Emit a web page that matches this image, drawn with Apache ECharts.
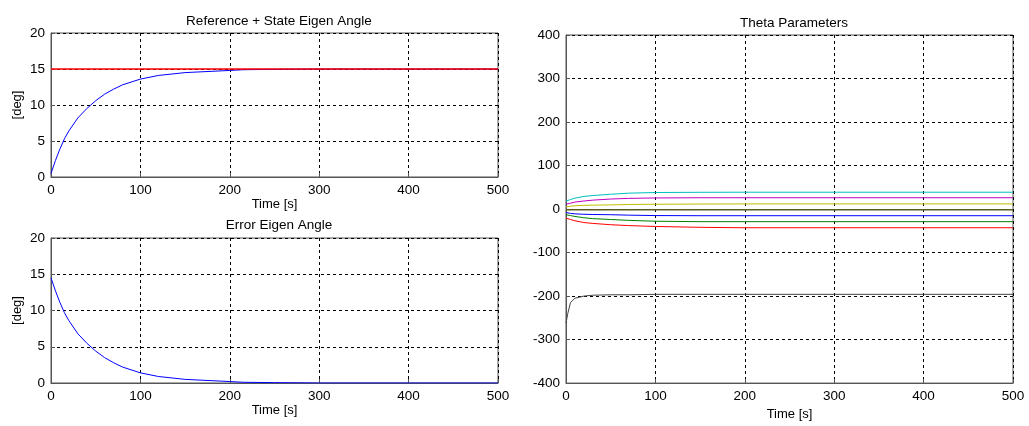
<!DOCTYPE html>
<html>
<head>
<meta charset="utf-8">
<script src="https://cdn.jsdelivr.net/npm/echarts@6/dist/echarts.min.js"></script>
<style>
  html, body { margin: 0; padding: 0; background: #fff; }
  #main { width: 1029px; height: 426px; }
</style>
</head>
<body>
<div id="main"></div>
<script>
// left plots (eigen angle)
var tLeft = [0, 5, 10, 15, 20, 30, 40, 50, 60, 70, 80, 100, 120, 150, 200, 215, 250, 300, 400, 500];
var refAngle = [15, 15, 15, 15, 15, 15, 15, 15, 15, 15, 15, 15, 15, 15, 15, 15, 15, 15, 15, 15];
var stateAngle = [0.5, 2.3, 3.9, 5.3, 6.4, 8.2, 9.5, 10.6, 11.5, 12.2, 12.8, 13.6, 14.1, 14.5, 14.8, 14.9, 14.95, 15, 15, 15];
var errorAngle = [14.5, 12.7, 11.1, 9.7, 8.6, 6.8, 5.5, 4.4, 3.5, 2.8, 2.2, 1.4, 0.9, 0.5, 0.2, 0.1, 0.05, 0, 0, 0];

// right plot (theta parameters)
var tRight = [0, 2, 5, 10, 20, 30, 50, 70, 100, 150, 200, 300, 400, 500];
var thetaCyan = [18, 20, 22, 25, 29, 31, 34, 36.5, 38, 38.5, 38.7, 38.7, 38.7, 38.7];
var thetaMagenta = [11, 12, 13.5, 16, 18.5, 20.5, 23, 24.5, 25.5, 26, 26, 26, 26, 26];
var thetaYellow = [5, 5.5, 6.5, 7.5, 8.5, 9, 9.5, 10.5, 11, 11.5, 11.8, 11.8, 11.8, 11.8];
var thetaOlive = [-1.5, -1.5, -1.5, -1.5, -1.5, -1.5, -1.5, -1.5, -1.5, -1.5, -1.5, -1.5, -1.5, -1.5];
var thetaBlue = [-8, -9, -10, -11, -12, -12.5, -13, -14, -15, -15.3, -15.3, -15.3, -15.3, -15.3];
var thetaGreen = [-13, -14, -15, -17, -20, -22, -24, -26, -28, -29, -29, -29, -29, -29];
var thetaRed = [-21, -22, -24, -27, -31, -33, -36, -38, -40, -42, -43, -43, -43, -43];
var thetaBlack = [-262, -240, -215, -205, -200, -198, -197, -197, -196, -196, -196, -196, -196, -196];

function pairs(t, v) {
  return t.map(function (x, i) { return [x, v[i]]; });
}

var font = 'Liberation Sans, Arial, sans-serif';
var gridStyle = { show: true, lineStyle: { color: '#000', type: [3, 3], width: 1 } };

function xAx(idx) {
  return {
    type: 'value', gridIndex: idx, min: 0, max: 500, interval: 100,
    name: 'Time [s]', nameLocation: 'middle', nameGap: 20,
    nameTextStyle: { color: '#000', fontSize: 13, fontFamily: font },
    axisLine: { show: true, onZero: false, lineStyle: { color: '#555' } },
    axisTick: { show: true, inside: true, length: 4, lineStyle: { color: '#555' } },
    axisLabel: { color: '#000', fontSize: 13.5, fontFamily: font, margin: 6 },
    splitLine: gridStyle
  };
}

function yAx(idx, min, max, interval, name) {
  return {
    type: 'value', gridIndex: idx, min: min, max: max, interval: interval,
    name: name, nameLocation: 'middle', nameGap: 27, nameRotate: 90,
    nameTextStyle: { color: '#000', fontSize: 13, fontFamily: font },
    axisLine: { show: true, onZero: false, lineStyle: { color: '#555' } },
    axisTick: { show: true, inside: true, length: 4, lineStyle: { color: '#555' } },
    axisLabel: { color: '#000', fontSize: 13.5, fontFamily: font, margin: 6 },
    splitLine: gridStyle
  };
}

function line(xi, data, color, w) {
  return {
    type: 'line', xAxisIndex: xi, yAxisIndex: xi, data: data,
    showSymbol: false, symbol: 'none', smooth: false, animation: false,
    lineStyle: { color: color, width: w || 1 }
  };
}

var chart = echarts.init(document.getElementById('main'), null, { renderer: 'canvas' });

var titleStyle = { color: '#000', fontSize: 13.5, fontWeight: 'normal', fontFamily: font };

chart.setOption({
  backgroundColor: '#fff',
  animation: false,
  title: [
    { text: 'Reference + State Eigen Angle', left: 274, top: 9, textAlign: 'center', textStyle: titleStyle },
    { text: 'Error Eigen Angle', left: 274, top: 213, textAlign: 'center', textStyle: titleStyle },
    { text: 'Theta Parameters', left: 789, top: 11, textAlign: 'center', textStyle: titleStyle }
  ],
  grid: [
    { left: 51, top: 33, width: 447, height: 144, show: true, borderColor: '#555', borderWidth: 1, backgroundColor: '#fff' },
    { left: 51, top: 238, width: 447, height: 145, show: true, borderColor: '#555', borderWidth: 1, backgroundColor: '#fff' },
    { left: 566, top: 35, width: 447, height: 355, show: true, borderColor: '#555', borderWidth: 1, backgroundColor: '#fff' }
  ],
  xAxis: [xAx(0), xAx(1), xAx(2)],
  yAxis: [
    yAx(0, 0, 20, 5, '[deg]'),
    yAx(1, 0, 20, 5, '[deg]'),
    yAx(2, -400, 400, 100, '')
  ],
  series: [
    line(0, pairs(tLeft, stateAngle), '#0000ff'),
    line(0, pairs(tLeft, refAngle), '#ff0000', 1.5),
    line(1, pairs(tLeft, errorAngle), '#0000ff'),
    line(2, pairs(tRight, thetaCyan), '#00bfbf'),
    line(2, pairs(tRight, thetaMagenta), '#bf00bf'),
    line(2, pairs(tRight, thetaYellow), '#bfbf00'),
    line(2, pairs(tRight, thetaOlive), '#5a5a1e', 1.5),
    line(2, pairs(tRight, thetaBlue), '#0000ff'),
    line(2, pairs(tRight, thetaGreen), '#008000'),
    line(2, pairs(tRight, thetaRed), '#ff0000'),
    line(2, pairs(tRight, thetaBlack), '#444444')
  ]
});
</script>
</body>
</html>
